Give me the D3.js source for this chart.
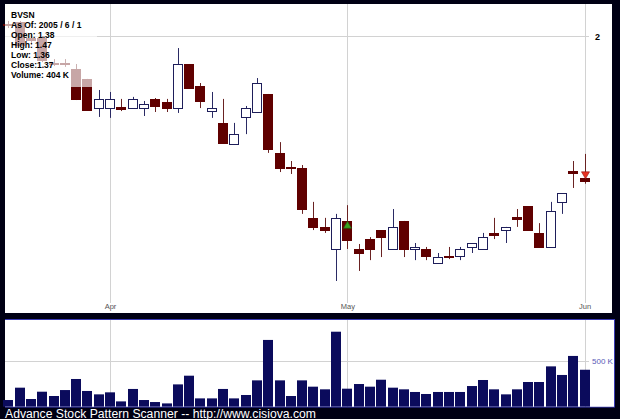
<!DOCTYPE html>
<html><head><meta charset="utf-8">
<script src="https://cdn.jsdelivr.net/npm/d3@7"></script>
<style>body{margin:0;background:#000014;} svg{display:block}</style>
</head><body>
<svg id="c" width="620" height="419"></svg>
<script>
const dates = ["2005-03-18","2005-03-21","2005-03-22","2005-03-23","2005-03-24","2005-03-28","2005-03-29","2005-03-30","2005-03-31",
"2005-04-01","2005-04-04","2005-04-05","2005-04-06","2005-04-07","2005-04-08","2005-04-11","2005-04-12","2005-04-13","2005-04-14","2005-04-15","2005-04-18","2005-04-19","2005-04-20","2005-04-21","2005-04-22","2005-04-25","2005-04-26","2005-04-27","2005-04-28","2005-04-29",
"2005-05-02","2005-05-03","2005-05-04","2005-05-05","2005-05-06","2005-05-09","2005-05-10","2005-05-11","2005-05-12","2005-05-13","2005-05-16","2005-05-17","2005-05-18","2005-05-19","2005-05-20","2005-05-23","2005-05-24","2005-05-25","2005-05-26","2005-05-27","2005-05-31",
"2005-06-01"];
const open  = [2.064,2.074,1.990,1.990,1.866,1.862,1.835,1.788,1.657,1.657,1.662,1.657,1.657,1.697,1.683,1.657,1.859,1.755,1.644,1.594,1.509,1.619,1.640,1.719,1.474,1.419,1.417,1.244,1.215,1.147,1.234,1.147,1.177,1.205,1.147,1.234,1.147,1.147,1.106,1.126,1.126,1.153,1.147,1.196,1.205,1.247,1.283,1.196,1.153,1.297,1.406,1.38];
const high  = [2.080,2.080,2.016,2.000,1.883,1.883,1.859,1.788,1.737,1.728,1.697,1.706,1.688,1.701,1.697,1.938,1.859,1.769,1.728,1.697,1.594,1.666,1.792,1.719,1.516,1.443,1.428,1.297,1.244,1.257,1.286,1.162,1.183,1.205,1.273,1.234,1.165,1.153,1.135,1.153,1.153,1.165,1.196,1.244,1.215,1.273,1.283,1.227,1.297,1.327,1.443,1.47];
const low   = [2.042,1.943,1.954,1.868,1.849,1.845,1.692,1.649,1.619,1.615,1.644,1.653,1.623,1.640,1.640,1.636,1.746,1.657,1.615,1.513,1.509,1.548,1.636,1.474,1.402,1.395,1.257,1.205,1.196,1.055,1.147,1.083,1.114,1.123,1.147,1.123,1.114,1.114,1.106,1.117,1.114,1.135,1.147,1.177,1.165,1.215,1.205,1.153,1.153,1.257,1.345,1.36];
const close = [2.058,1.954,1.979,1.879,1.862,1.857,1.697,1.649,1.697,1.697,1.653,1.697,1.675,1.666,1.657,1.859,1.746,1.688,1.657,1.513,1.548,1.657,1.769,1.489,1.417,1.415,1.273,1.215,1.205,1.244,1.174,1.135,1.147,1.183,1.215,1.147,1.153,1.126,1.123,1.123,1.147,1.165,1.183,1.190,1.215,1.240,1.205,1.153,1.266,1.327,1.399,1.37];
const volumeK = [73,208,84,164,117,182,303,172,135,157,58,194,73,51,36,244,339,91,91,194,91,128,288,730,288,117,288,219,190,820,197,248,219,295,208,190,161,139,161,161,161,226,292,190,135,190,270,270,441,347,555,404];
const monthTicks = ["2005-04-01","2005-05-02","2005-06-01"];
const monthLabels = ["Apr","May","Jun"];
const priceTicks = [2];
const volumeTicks = [500];
const buySignals = ["2005-05-02"];
const sellSignals = ["2005-06-01"];
const legendLines = ["BVSN","As Of: 2005 / 6 / 1","Open: 1.38","High: 1.47","Low: 1.36","Close:1.37","Volume: 404 K"];
const footer = "Advance Stock Pattern Scanner -- http://www.cisiova.com";

const data = dates.map((d,i)=>({d, o:open[i], h:high[i], l:low[i], c:close[i], v:volumeK[i]}));

const svg = d3.select("#c");
const FONT = "'Liberation Sans', Arial, sans-serif";

svg.append("rect").attr("width",620).attr("height",419).attr("fill","#000014");
svg.append("rect").attr("x",5).attr("y",4).attr("width",607).attr("height",309).attr("fill","#fff");
svg.append("rect").attr("x",5).attr("y",319).attr("width",609).attr("height",88).attr("fill","#fff");

const x = d3.scalePoint().domain(dates).range([8.3, 584.6]);
const y = d3.scaleLog().domain([0.9704, 2.1742]).range([313, 4]);
const yv = d3.scaleLinear().domain([0, 948]).range([406.7, 320]);

const grid = "#d2d2d2";
monthTicks.forEach(t=>{
  const gx = Math.round(x(t))+0.5;
  svg.append("line").attr("x1",gx).attr("x2",gx).attr("y1",4).attr("y2",303).attr("stroke",grid);
  svg.append("line").attr("x1",gx).attr("x2",gx).attr("y1",320).attr("y2",407).attr("stroke",grid);
});
priceTicks.forEach(p=>{
  const gy = Math.round(y(p))+0.5;
  svg.append("line").attr("x1",5).attr("x2",589).attr("y1",gy).attr("y2",gy).attr("stroke",grid);
});
volumeTicks.forEach(v=>{
  const gy = Math.round(yv(v))+0.5;
  svg.append("line").attr("x1",5).attr("x2",589).attr("y1",gy).attr("y2",gy).attr("stroke",grid);
});

const xAxis = d3.axisBottom(x).tickValues(monthTicks).tickSize(0).tickPadding(0)
  .tickFormat((d,i)=>monthLabels[i]);
const gx = svg.append("g").attr("transform","translate(0,305)").call(xAxis);
gx.select(".domain").remove();
gx.selectAll("text").attr("font-family",FONT).attr("font-size","7.5px").attr("fill","#555").attr("dy","0.5em");

const yAxis = d3.axisRight(y).tickValues(priceTicks).tickSize(0).tickPadding(0).tickFormat(d3.format("d"));
const gy = svg.append("g").attr("transform","translate(595,0)").call(yAxis);
gy.select(".domain").remove();
gy.selectAll("text").attr("font-family",FONT).attr("font-size","9px").attr("font-weight","bold").attr("fill","#000").attr("dy","0.4em");

const vAxis = d3.axisRight(yv).tickValues(volumeTicks).tickSize(0).tickPadding(0).tickFormat(d=>d+" K");
const gv = svg.append("g").attr("transform","translate(592,0)").call(vAxis);
gv.select(".domain").remove();
gv.selectAll("text").attr("font-family",FONT).attr("font-size","8px").attr("fill","#5a5ab8").attr("dy","0.3em");

svg.append("g").selectAll("rect").data(data).join("rect")
  .attr("x",d=>Math.round(x(d.d)-5)).attr("width",10)
  .attr("y",d=>yv(d.v)).attr("height",d=>yv(0)-yv(d.v))
  .attr("fill","#0b0b5c");

const up = d=>d.c>=d.o;
const cg = svg.append("g");
cg.selectAll("line").data(data).join("line")
  .attr("x1",d=>Math.round(x(d.d))+0.5).attr("x2",d=>Math.round(x(d.d))+0.5)
  .attr("y1",d=>y(d.h)).attr("y2",d=>y(d.l))
  .attr("stroke",d=>up(d)?"#2a2a64":"#6a2222").attr("stroke-width",1);
cg.selectAll("rect").data(data).join("rect")
  .attr("x",d=>Math.round(x(d.d))-4.5).attr("width",9)
  .attr("y",d=>Math.round(y(Math.max(d.o,d.c)))+0.5)
  .attr("height",d=>Math.max(1,Math.round(y(Math.min(d.o,d.c))-y(Math.max(d.o,d.c)))))
  .attr("fill",d=>up(d)?"#fff":"#600000")
  .attr("stroke",d=>up(d)?"#1e1e5a":"#600000").attr("stroke-width",1);

const tri = d3.symbol().type(d3.symbolTriangle).size(28);
buySignals.forEach(s=>{
  const d = data[dates.indexOf(s)];
  svg.append("path").attr("d",tri()).attr("transform",`translate(${Math.round(x(s))+0.5},${y(d.o)+5})`)
    .attr("fill","#3aa020").attr("stroke","#1d5a10").attr("stroke-width",0.6);
});
sellSignals.forEach(s=>{
  const d = data[dates.indexOf(s)];
  svg.append("path").attr("d",tri()).attr("transform",`translate(${Math.round(x(s))+0.5},${y(d.o)-4}) rotate(180)`)
    .attr("fill","#e83020").attr("stroke","#901010").attr("stroke-width",0.6);
});

svg.append("rect").attr("x",5).attr("y",4).attr("width",92).attr("height",83).attr("fill","#fff").attr("fill-opacity",0.65);
svg.append("g").selectAll("text").data(legendLines).join("text")
  .attr("x",11).attr("y",(d,i)=>17.5+i*10.1)
  .attr("font-family",FONT).attr("font-size","8.5px").attr("font-weight","bold").attr("fill","#000")
  .text(d=>d);

const blue = "#3a3ab4";
svg.append("line").attr("x1",5).attr("x2",615).attr("y1",319.5).attr("y2",319.5).attr("stroke",blue);
svg.append("line").attr("x1",614.5).attr("x2",614.5).attr("y1",319).attr("y2",407).attr("stroke",blue);
svg.append("line").attr("x1",5).attr("x2",615).attr("y1",407.2).attr("y2",407.2).attr("stroke",blue).attr("stroke-width",0.8);

svg.append("text").attr("x",5).attr("y",417.5).attr("font-family",FONT).attr("font-size","12px")
  .attr("fill","#fff").attr("textLength",311).attr("lengthAdjust","spacingAndGlyphs").text(footer);
</script>
</body></html>
